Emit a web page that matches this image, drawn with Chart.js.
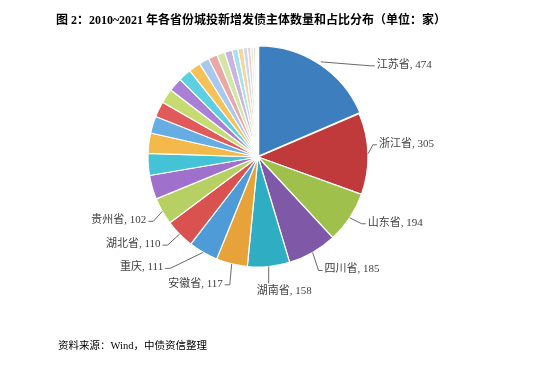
<!DOCTYPE html>
<html>
<head>
<meta charset="utf-8">
<script src="https://cdn.jsdelivr.net/npm/chart.js@4"></script>
<style>
body{margin:0;background:#fff;width:550px;height:367px;overflow:hidden;position:relative;font-family:"Liberation Serif","Noto Sans CJK SC",serif}
#title{position:absolute;top:11px;left:0;width:502px;text-align:center;font-weight:bold;font-size:12px;line-height:18px;color:#000}
#src{position:absolute;left:58px;top:338px;font-size:10.5px;line-height:16px;color:#000}
#wrap{position:absolute;left:0;top:0;width:550px;height:367px}
</style>
</head>
<body>
<div id="wrap"><canvas id="pie"></canvas></div>
<div id="title">图 2：2010~2021 年各省份城投新增发债主体数量和占比分布（单位：家）</div>
<div id="src">资料来源：Wind，中债资信整理</div>
<script>
// provinces, sorted by number of new issuers
const provinces = ['江苏省', '浙江省', '山东省', '四川省', '湖南省', '安徽省', '重庆', '湖北省', '贵州省',
    '江西省', '河南省', '福建省', '广东省', '陕西省', '云南省', '广西', '天津', '河北省', '新疆', '北京',
    '甘肃省', '山西省', '吉林省', '辽宁省', '内蒙古', '上海', '黑龙江省', '宁夏', '青海省', '海南省', '西藏'];
const issuers = [474, 305, 194, 185, 158, 117, 111, 110, 102,
    90, 82, 76, 64, 58, 55, 52, 48, 45, 38, 34,
    30, 28, 22, 20, 16, 12, 10, 8, 5, 3, 1];
const labeledCount = 9;

// Excel-like palette, repeating and fading
const sliceColors = [
    '#3d7ebf', '#c0393b', '#a0c04c', '#7f58a8', '#2fadc3', '#e8a23a',
    '#4e9bd8', '#d9524f', '#b6d063', '#a071cc', '#45c3d6', '#f3b94b',
    '#66ade4', '#e05a5a', '#c6db72', '#aa80d6', '#5cd0e2', '#f6c158',
    '#a9c8ee', '#eba6a6', '#d5e5a6', '#c7b4e3', '#a8e1ea', '#f7d49c',
    '#c9d9f2', '#f2caca', '#e3edc8', '#dcd2ee', '#cdeef2', '#f8e6c8',
    '#e2eaf6'
];

// leader line elbow, relative to the slice edge, and text side
const labelNudge = [
    [50, 4, 'r'], [5, -9, 'r'], [12, 6, 'r'], [6, 18, 'r'], [0, 17, 'b'],
    [-2, 21, 'l'], [-33, 16, 'l'], [-12, 11, 'l'], [-9, 10, 'l']
];

const leaderLabels = {
    id: 'leaderLabels',
    afterDatasetsDraw(chart) {
        const meta = chart.getDatasetMeta(0);
        const ctx = chart.ctx;
        ctx.save();
        ctx.strokeStyle = '#595959';
        ctx.lineWidth = 0.9;
        ctx.fillStyle = '#3f3f3f';
        ctx.font = '11px "Liberation Serif", "Noto Sans CJK SC"';
        ctx.textBaseline = 'middle';
        meta.data.forEach((arc, i) => {
            if (i >= labeledCount) return;
            const p = arc.getProps(['x', 'y', 'startAngle', 'endAngle', 'outerRadius'], true);
            const mid = (p.startAngle + p.endAngle) / 2;
            const off = i === 0 ? 4 : 0;
            const x0 = p.x + Math.cos(mid) * (p.outerRadius + off);
            const y0 = p.y + Math.sin(mid) * (p.outerRadius + off);
            const [dx, dy, side] = labelNudge[i];
            const x1 = x0 + dx, y1 = y0 + dy;
            const text = provinces[i] + ', ' + issuers[i];
            ctx.beginPath();
            ctx.moveTo(x0, y0);
            ctx.lineTo(x1, y1);
            if (side === 'r') {
                ctx.lineTo(x1 + 4, y1);
                ctx.stroke();
                ctx.textAlign = 'left';
                ctx.fillText(text, x1 + 6, y1 - 1);
            } else if (side === 'l') {
                ctx.lineTo(x1 - 5, y1);
                ctx.stroke();
                ctx.textAlign = 'right';
                ctx.fillText(text, x1 - 7, y1 - 1);
            } else {
                ctx.stroke();
                ctx.textAlign = 'left';
                ctx.fillText(text, x1 - 12, y1 + 8);
            }
        });
        ctx.restore();
    }
};

new Chart(document.getElementById('pie'), {
    type: 'pie',
    data: {
        labels: provinces,
        datasets: [{
            data: issuers,
            backgroundColor: sliceColors,
            borderColor: '#ffffff',
            borderWidth: 1.2,
            offset: issuers.map((v, i) => i === 0 ? 5 : 0),
            radius: 110
        }]
    },
    options: {
        responsive: true,
        maintainAspectRatio: false,
        animation: false,
        layout: { padding: { left: 100, right: 134, top: 40, bottom: 93 } },
        plugins: {
            legend: { display: false },
            tooltip: { enabled: false }
        }
    },
    plugins: [leaderLabels]
});
</script>
</body>
</html>
